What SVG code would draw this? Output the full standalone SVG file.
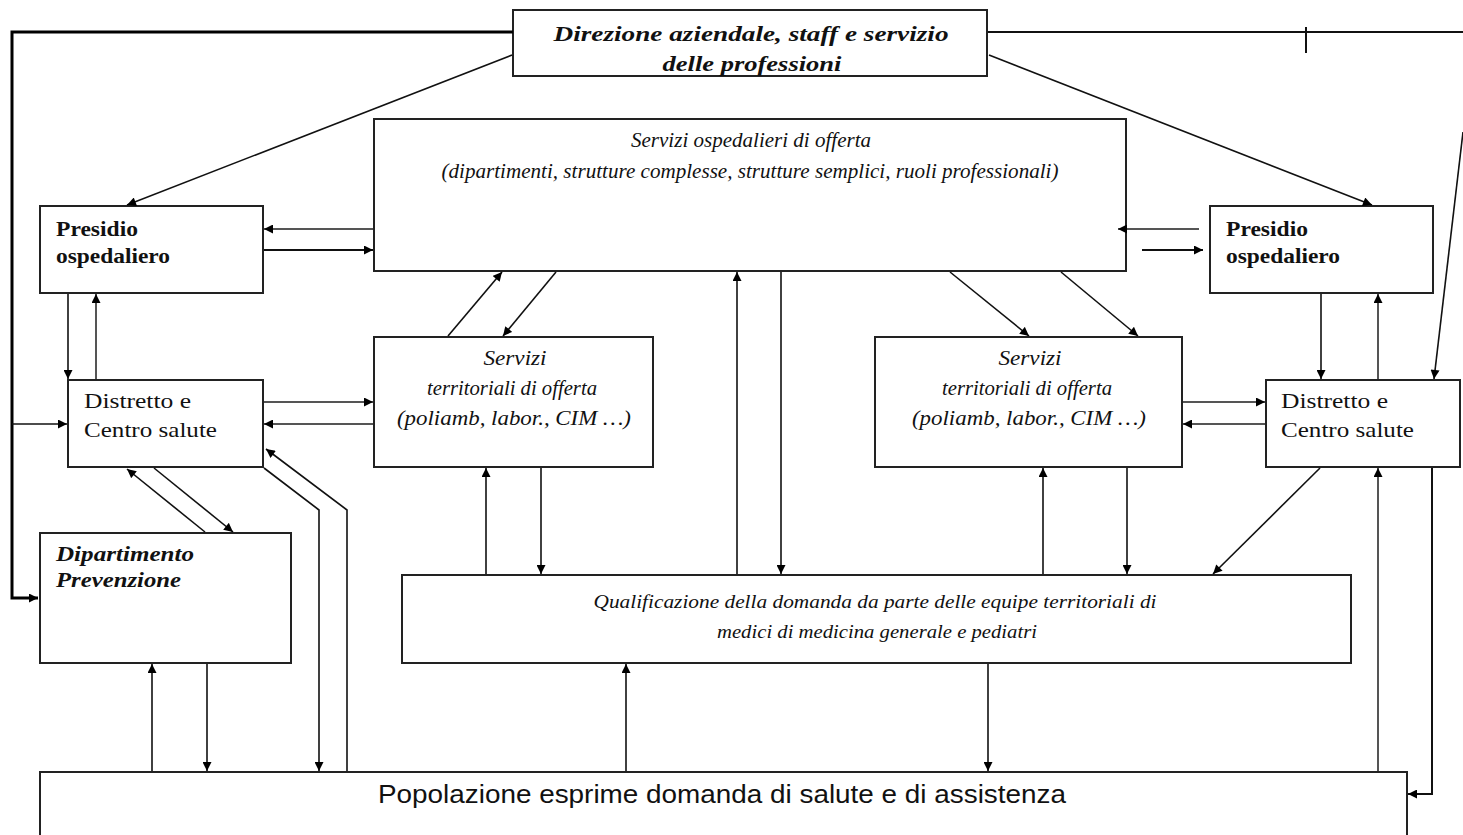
<svg xmlns="http://www.w3.org/2000/svg" width="1463" height="835" viewBox="0 0 1463 835">
<style>
.box{fill:#fff;stroke:#222;stroke-width:2}
.ln{fill:none;stroke:#111;stroke-width:1.6}
.lg{fill:none;stroke:#555;stroke-width:2}
.thick{fill:none;stroke:#000;stroke-width:3}
.ser{font-family:"Liberation Serif","Times New Roman",serif;fill:#111}
.it{font-style:italic}
.b{font-weight:bold}
.sans{font-family:"Liberation Sans",Arial,sans-serif;fill:#111}
</style>
<defs>
<marker id="a" viewBox="0 0 10 10" refX="10" refY="5" markerWidth="10" markerHeight="9" markerUnits="userSpaceOnUse" orient="auto">
<path d="M0,0 L10,5 L0,10 z" fill="#000"/>
</marker>
</defs>
<rect width="1463" height="835" fill="#fff"/>
<g id="direzione">
<rect class="box" x="513" y="10" width="474" height="66"/>
<text class="ser it b" font-size="22" x="751" y="41" text-anchor="middle" textLength="395" lengthAdjust="spacingAndGlyphs">Direzione aziendale, staff e servizio</text>
<text class="ser it b" font-size="22" x="752" y="71" text-anchor="middle" textLength="179" lengthAdjust="spacingAndGlyphs">delle professioni</text>
</g>
<g id="servizi-ospedalieri">
<rect class="box" x="374" y="119" width="752" height="152"/>
<text class="ser it" font-size="20" x="751" y="147" text-anchor="middle" textLength="240" lengthAdjust="spacingAndGlyphs">Servizi ospedalieri di offerta</text>
<text class="ser it" font-size="20" x="750" y="178" text-anchor="middle" textLength="617" lengthAdjust="spacingAndGlyphs">(dipartimenti, strutture complesse, strutture semplici, ruoli professionali)</text>
</g>
<g id="presidio-sx">
<rect class="box" x="40" y="206" width="223" height="87"/>
<text class="ser b" font-size="21" x="56" y="236" textLength="82" lengthAdjust="spacingAndGlyphs">Presidio</text>
<text class="ser b" font-size="21" x="56" y="263" textLength="114" lengthAdjust="spacingAndGlyphs">ospedaliero</text>
</g>
<g id="presidio-dx">
<rect class="box" x="1210" y="206" width="223" height="87"/>
<text class="ser b" font-size="21" x="1226" y="236" textLength="82" lengthAdjust="spacingAndGlyphs">Presidio</text>
<text class="ser b" font-size="21" x="1226" y="263" textLength="114" lengthAdjust="spacingAndGlyphs">ospedaliero</text>
</g>
<g id="distretto-sx">
<rect class="box" x="68" y="380" width="195" height="87"/>
<text class="ser" font-size="22" x="84" y="408" textLength="107" lengthAdjust="spacingAndGlyphs">Distretto e</text>
<text class="ser" font-size="22" x="84" y="437" textLength="133" lengthAdjust="spacingAndGlyphs">Centro salute</text>
</g>
<g id="distretto-dx">
<rect class="box" x="1266" y="380" width="194" height="87"/>
<text class="ser" font-size="22" x="1281" y="408" textLength="107" lengthAdjust="spacingAndGlyphs">Distretto e</text>
<text class="ser" font-size="22" x="1281" y="437" textLength="133" lengthAdjust="spacingAndGlyphs">Centro salute</text>
</g>
<g id="servizi-territoriali-sx">
<rect class="box" x="374" y="337" width="279" height="130"/>
<text class="ser it" font-size="20" x="515" y="365" text-anchor="middle" textLength="63" lengthAdjust="spacingAndGlyphs">Servizi</text>
<text class="ser it" font-size="20" x="512" y="395" text-anchor="middle" textLength="170" lengthAdjust="spacingAndGlyphs">territoriali di offerta</text>
<text class="ser it" font-size="20" x="514" y="425" text-anchor="middle" textLength="234" lengthAdjust="spacingAndGlyphs">(poliamb, labor., CIM …)</text>
</g>
<g id="servizi-territoriali-dx">
<rect class="box" x="875" y="337" width="307" height="130"/>
<text class="ser it" font-size="20" x="1030" y="365" text-anchor="middle" textLength="63" lengthAdjust="spacingAndGlyphs">Servizi</text>
<text class="ser it" font-size="20" x="1027" y="395" text-anchor="middle" textLength="170" lengthAdjust="spacingAndGlyphs">territoriali di offerta</text>
<text class="ser it" font-size="20" x="1029" y="425" text-anchor="middle" textLength="234" lengthAdjust="spacingAndGlyphs">(poliamb, labor., CIM …)</text>
</g>
<g id="dipartimento-prevenzione">
<rect class="box" x="40" y="533" width="251" height="130"/>
<text class="ser it b" font-size="21" x="56" y="561" textLength="138" lengthAdjust="spacingAndGlyphs">Dipartimento</text>
<text class="ser it b" font-size="21" x="56" y="587" textLength="125" lengthAdjust="spacingAndGlyphs">Prevenzione</text>
</g>
<g id="qualificazione">
<rect class="box" x="402" y="575" width="949" height="88"/>
<text class="ser it" font-size="19" x="875" y="608" text-anchor="middle" textLength="563" lengthAdjust="spacingAndGlyphs">Qualificazione della domanda da parte delle equipe territoriali di</text>
<text class="ser it" font-size="19" x="877" y="638" text-anchor="middle" textLength="320" lengthAdjust="spacingAndGlyphs">medici di medicina generale e pediatri</text>
</g>
<g id="popolazione">
<rect class="box" x="40" y="772" width="1367" height="80"/>
<text class="sans" font-size="26" x="722" y="803" text-anchor="middle" textLength="688" lengthAdjust="spacingAndGlyphs">Popolazione esprime domanda di salute e di assistenza</text>
</g>
<g id="connectors">
<polyline class="thick" points="513,32 12,32 12,598 38,598" marker-end="url(#a)"/>
<line class="ln" x1="12" y1="424" x2="67" y2="424" marker-end="url(#a)"/>
<line class="ln" x1="988" y1="32" x2="1463" y2="32" style="stroke-width:2"/>
<line class="ln" x1="1306" y1="27" x2="1306" y2="53" style="stroke-width:2"/>
<line class="ln" x1="1463" y1="132" x2="1434" y2="379" marker-end="url(#a)"/>
<line class="ln" x1="512" y1="55" x2="127" y2="205" marker-end="url(#a)"/>
<line class="ln" x1="989" y1="55" x2="1372" y2="205" marker-end="url(#a)"/>
<line class="lg" x1="373" y1="229" x2="264" y2="229" marker-end="url(#a)"/>
<line class="ln" x1="264" y1="250" x2="373" y2="250" style="stroke-width:2"  marker-end="url(#a)"/>
<line class="lg" x1="1199" y1="229" x2="1118" y2="229" marker-end="url(#a)"/>
<line class="ln" x1="1142" y1="250" x2="1203" y2="250" style="stroke-width:2" marker-end="url(#a)"/>
<line class="ln" x1="68" y1="294" x2="68" y2="379" marker-end="url(#a)"/>
<line class="lg" x1="96" y1="379" x2="96" y2="294" marker-end="url(#a)"/>
<line class="ln" x1="1321" y1="294" x2="1321" y2="379" marker-end="url(#a)"/>
<line class="lg" x1="1378" y1="379" x2="1378" y2="294" marker-end="url(#a)"/>
<line class="lg" x1="264" y1="402" x2="373" y2="402" marker-end="url(#a)"/>
<line class="lg" x1="373" y1="424" x2="264" y2="424" marker-end="url(#a)"/>
<line class="lg" x1="1183" y1="402" x2="1265" y2="402" marker-end="url(#a)"/>
<line class="lg" x1="1265" y1="424" x2="1183" y2="424" marker-end="url(#a)"/>
<line class="ln" x1="448" y1="336" x2="502" y2="272" marker-end="url(#a)"/>
<line class="ln" x1="556" y1="272" x2="503" y2="336" marker-end="url(#a)"/>
<line class="ln" x1="950" y1="272" x2="1029" y2="336" marker-end="url(#a)"/>
<line class="ln" x1="1061" y1="272" x2="1138" y2="336" marker-end="url(#a)"/>
<line class="ln" x1="737" y1="574" x2="737" y2="272" marker-end="url(#a)"/>
<line class="ln" x1="781" y1="272" x2="781" y2="574" marker-end="url(#a)"/>
<line class="ln" x1="486" y1="574" x2="486" y2="468" marker-end="url(#a)"/>
<line class="ln" x1="541" y1="468" x2="541" y2="574" marker-end="url(#a)"/>
<line class="ln" x1="1043" y1="574" x2="1043" y2="468" marker-end="url(#a)"/>
<line class="ln" x1="1127" y1="468" x2="1127" y2="574" marker-end="url(#a)"/>
<line class="ln" x1="1320" y1="468" x2="1213" y2="574" marker-end="url(#a)"/>
<line class="ln" x1="205" y1="532" x2="127" y2="469" marker-end="url(#a)"/>
<line class="ln" x1="154" y1="468" x2="233" y2="532" marker-end="url(#a)"/>
<polyline class="ln" points="264,468 319,510 319,771" marker-end="url(#a)"/>
<polyline class="ln" points="347,771 347,510 266,449" marker-end="url(#a)"/>
<line class="ln" x1="152" y1="771" x2="152" y2="664" marker-end="url(#a)"/>
<line class="ln" x1="207" y1="664" x2="207" y2="771" marker-end="url(#a)"/>
<line class="ln" x1="626" y1="771" x2="626" y2="664" marker-end="url(#a)"/>
<line class="ln" x1="988" y1="664" x2="988" y2="771" marker-end="url(#a)"/>
<line class="lg" x1="1378" y1="771" x2="1378" y2="468" marker-end="url(#a)"/>
<polyline class="ln" points="1432,468 1432,794 1408,794" style="stroke-width:2" marker-end="url(#a)"/>
</g>
</svg>
